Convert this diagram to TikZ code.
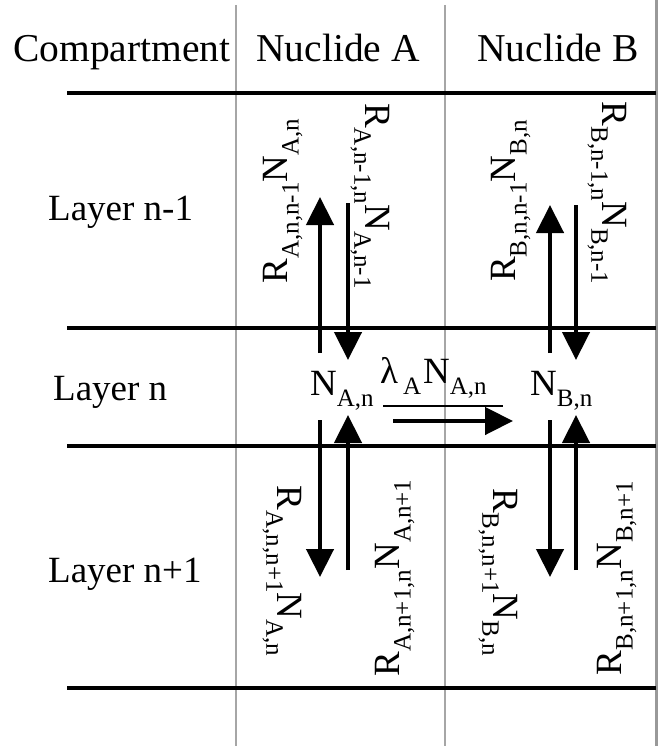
\documentclass[tikz,border=0pt]{standalone}
\usepackage{fontspec}
\setmainfont{Liberation Serif}
\usetikzlibrary{arrows.meta}
\newcommand\sbs[1]{\raisebox{-11pt}{\fontsize{25}{25}\selectfont #1}}
\begin{document}
\begin{tikzpicture}[x=1pt,y=-1pt,
  rule/.style={line width=4pt,black},
  gridline/.style={line width=1.2pt,black!35},
  flow/.style={line width=4.5pt,-{Triangle[width=27pt,length=28pt]}},
  lbl/.style={inner sep=0pt,font=\fontsize{37}{40}\selectfont},
  head/.style={inner sep=0pt,font=\fontsize{39.5}{42}\selectfont}]
\useasboundingbox (0,0) rectangle (660,746);
% grid
\coordinate (v1t) at (236,5);   \coordinate (v1b) at (236,746);
\coordinate (v2t) at (445,5);   \coordinate (v2b) at (445,746);
\coordinate (v3t) at (656,0);   \coordinate (v3b) at (656,746);
\draw[gridline] (v1t) -- (v1b);
\draw[gridline] (v2t) -- (v2b);
\draw[line width=3pt,black!40] (v3t) -- (v3b);
\foreach \y/\n in {93/h1,328/h2,446/h3,688/h4}{
  \coordinate (\n l) at (67,\y); \coordinate (\n r) at (656,\y);
  \draw[rule] (\n l) -- (\n r);
}
% headers
\node[head,anchor=base] (hc) at (122,62) {Compartment};
\node[head,anchor=base] (ha) at (338,62) {Nuclide A};
\node[head,anchor=base] (hb) at (558,62) {Nuclide B};
% layer labels
\node[lbl,anchor=base west] (l1) at (48,220) {Layer n-1};
\node[lbl,anchor=base west] (l2) at (53,400) {Layer n};
\node[lbl,anchor=base west] (l3) at (48,582) {Layer n+1};
% layer n contents
\node[lbl,anchor=base west] (NAn) at (310,395) {N\sbs{A,n}};
\node[lbl,anchor=base west] (lam) at (380,383) {λ\hspace{5pt}\sbs{A}\hspace{2pt}N\sbs{A,n}};
\node[lbl,anchor=base west] (NBn) at (530,395) {N\sbs{B,n}};
\coordinate (ul) at (383,406); \coordinate (ur) at (503,406);
\draw[line width=1.2pt] (ul) -- (ur);
\coordinate (hs) at (393,421); \coordinate (he) at (513,421);
\draw[flow] (hs) -- (he);
% vertical arrows, nuclide A
\coordinate (a1s) at (320,353); \coordinate (a1e) at (320,197);
\coordinate (a2s) at (348,203); \coordinate (a2e) at (348,360);
\coordinate (a3s) at (320,420); \coordinate (a3e) at (320,577);
\coordinate (a4s) at (348,570); \coordinate (a4e) at (348,415);
\draw[flow] (a1s) -- (a1e);
\draw[flow] (a2s) -- (a2e);
\draw[flow] (a3s) -- (a3e);
\draw[flow] (a4s) -- (a4e);
% vertical arrows, nuclide B
\coordinate (b1s) at (550,353); \coordinate (b1e) at (550,205);
\coordinate (b2s) at (576,205); \coordinate (b2e) at (576,360);
\coordinate (b3s) at (550,420); \coordinate (b3e) at (550,577);
\coordinate (b4s) at (576,570); \coordinate (b4e) at (576,415);
\draw[flow] (b1s) -- (b1e);
\draw[flow] (b2s) -- (b2e);
\draw[flow] (b3s) -- (b3e);
\draw[flow] (b4s) -- (b4e);
% rotated rate labels
\node[lbl,rotate=90]  (rA1) at (283,201) {R\sbs{A,n,n-1}N\sbs{A,n}};
\node[lbl,rotate=-90] (rA2) at (370,196) {R\sbs{A,n-1,n}N\sbs{A,n-1}};
\node[lbl,rotate=90]  (rB1) at (511,201) {R\sbs{B,n,n-1}N\sbs{B,n}};
\node[lbl,rotate=-90] (rB2) at (607,193) {R\sbs{B,n-1,n}N\sbs{B,n-1}};
\node[lbl,rotate=-90] (rA3) at (282,571) {R\sbs{A,n,n+1}N\sbs{A,n}};
\node[lbl,rotate=90]  (rA4) at (395,578) {R\sbs{A,n+1,n}N\sbs{A,n+1}};
\node[lbl,rotate=-90] (rB3) at (498,572) {R\sbs{B,n,n+1}N\sbs{B,n}};
\node[lbl,rotate=90]  (rB4) at (617,578) {R\sbs{B,n+1,n}N\sbs{B,n+1}};
\end{tikzpicture}
\end{document}
